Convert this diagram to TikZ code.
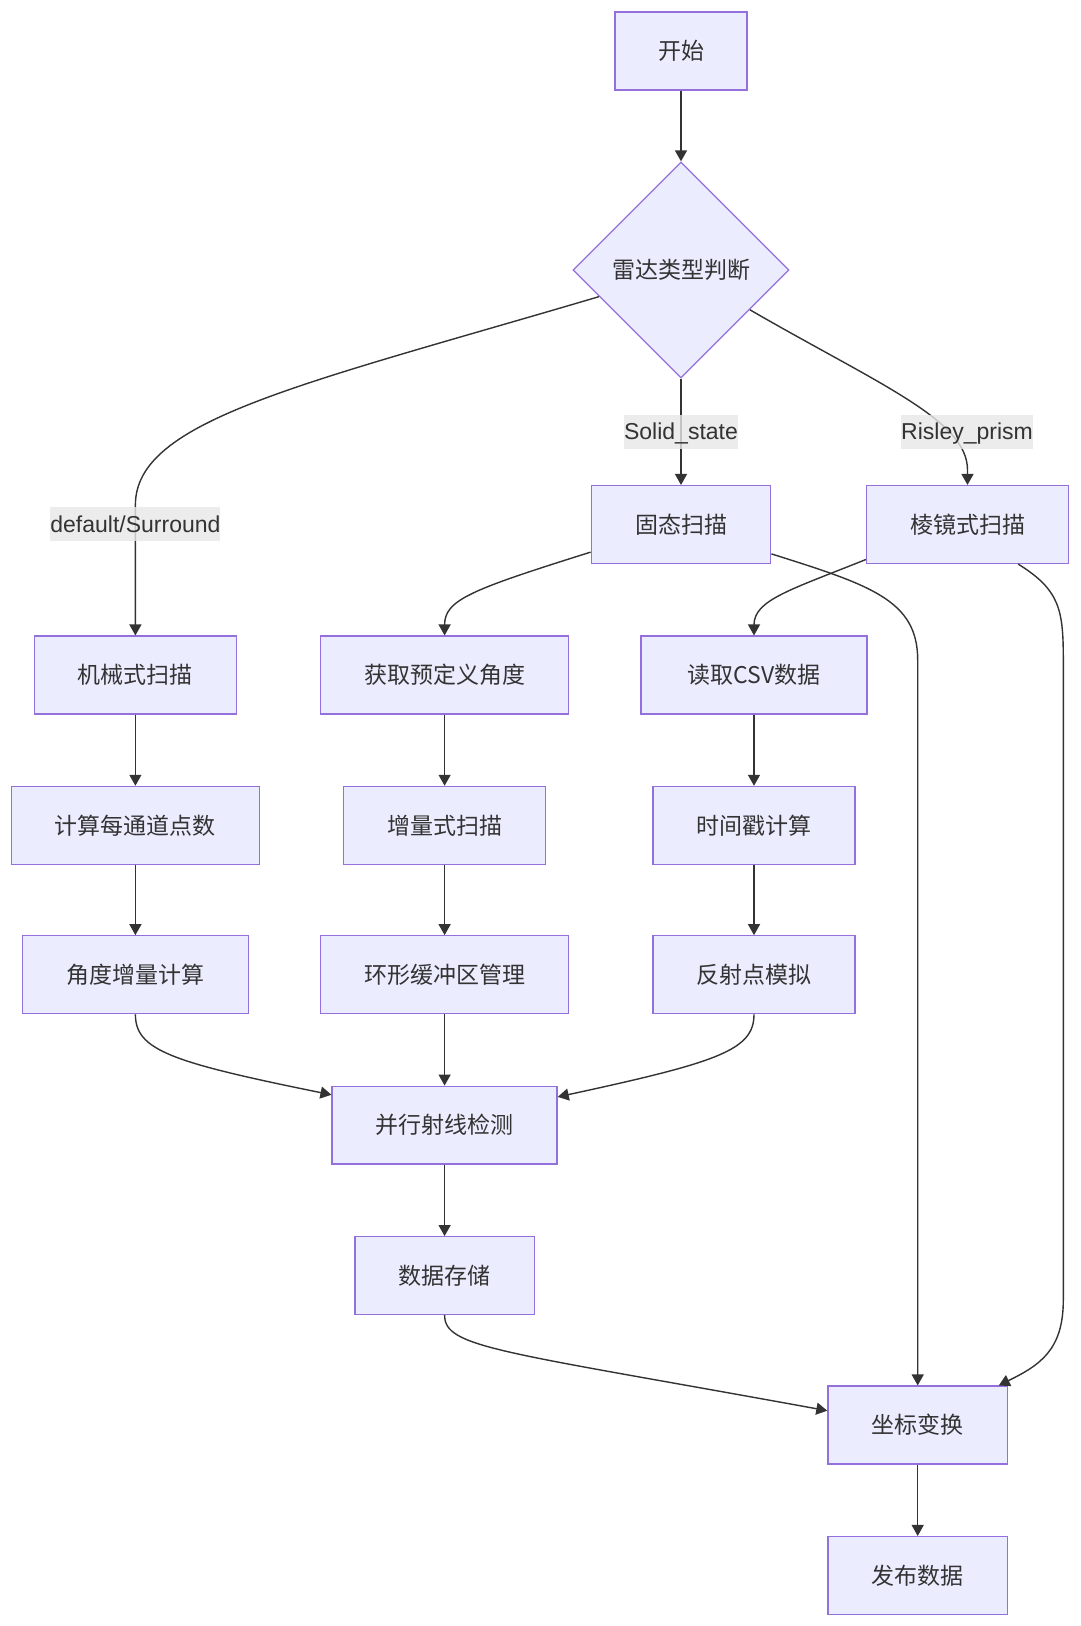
\documentclass[tikz,border=0pt]{standalone}
\usepackage{fontspec}
\setmainfont{Liberation Sans}
\newfontfamily\cjk{Noto Sans CJK SC}
\usetikzlibrary{positioning,shapes.geometric,arrows.meta}
\definecolor{boxfill}{HTML}{ECECFF}
\definecolor{boxline}{HTML}{9370DB}
\definecolor{ink}{HTML}{333333}
\definecolor{lblfill}{HTML}{E8E8E8}
\tikzset{
  box/.style={draw=boxline, fill=boxfill, line width=1.3pt, minimum height=77.8pt,
    inner sep=0pt, text=ink, font=\cjk\fontsize{23}{28}\selectfont},
  decide/.style={box, diamond, aspect=1, minimum width=216pt, minimum height=216pt},
  lbl/.style={fill=lblfill, fill opacity=0.8, text opacity=1, text=ink, inner xsep=0pt,
    inner ysep=5pt, text height=20pt, text depth=4pt, font=\fontsize{23}{28}\selectfont},
  flow/.style={draw=ink, line width=1.4pt, -{Triangle[length=11pt,width=12pt]}}
}
\begin{document}
\begin{tikzpicture}[x=1pt,y=-1pt]
  %% page frame (px of the original)
  \fill[white] (0,0) rectangle (1080,1626);
  \useasboundingbox (0,0) rectangle (1080,1626);

  \def\colA{135.4} % mechanical column
  \def\colB{444.6} % solid state column
  \def\colC{754} % prism column

  % top
  \node[box, minimum width=132pt] (start) at (681,51) {开始};
  \node[decide] (dia) at (681,270) {雷达类型判断};
  \node[box, minimum width=179.5pt] (gt) at (681,524.5) {固态扫描};
  \node[box, minimum width=202pt] (lj) at (967.5,524.5) {棱镜式扫描};

  % three branches
  \node[box, minimum width=202pt] (jx) at (\colA,675) {机械式扫描};
  \node[box, minimum width=248pt] (jm) at (\colA,825.3) {计算每通道点数};
  \node[box, minimum width=226pt] (jd) at (\colA,974.7) {角度增量计算};

  \node[box, minimum width=248pt] (hq) at (\colB,675) {获取预定义角度};
  \node[box, minimum width=202pt] (zl) at (\colB,825.3) {增量式扫描};
  \node[box, minimum width=248pt] (hx) at (\colB,974.7) {环形缓冲区管理};

  \node[box, minimum width=226pt] (dq) at (\colC,675) {读取CSV数据};
  \node[box, minimum width=202pt] (sj) at (\colC,825.3) {时间戳计算};
  \node[box, minimum width=202pt] (fs) at (\colC,974.7) {反射点模拟};

  % bottom
  \node[box, minimum width=225pt] (bx) at (\colB,1125.1) {并行射线检测};
  \node[box, minimum width=179.5pt] (sc) at (\colB,1275.6) {数据存储};
  \node[box, minimum width=179.5pt] (zb) at (917.7,1425) {坐标变换};
  \node[box, minimum width=179.5pt] (fb) at (917.7,1575.5) {发布数据};

  % edges
  \draw[flow] (start.south) -- (dia.north);
  \draw[flow] (dia.198) .. controls (300,385) and (\colA,420) .. (\colA,505) -- (jx.north);
  \draw[flow] (dia.south) -- (gt.north);
  \draw[flow] (dia.330.5) .. controls (880,385) and (967.5,420) .. (967.5,470) -- (lj.north);

  \draw[flow] (gt.197.6) .. controls (470,590) and (\colB,600) .. (\colB,625) -- (hq.north);
  \draw[flow] (gt.342.4) .. controls (870,585) and (917.7,600) .. (917.7,660) -- (zb.north);
  \draw[flow] (lj.199.4) .. controls (790,590) and (\colC,600) .. (\colC,625) -- (dq.north);
  \draw[flow] (lj.322.3) .. controls (1060,590) and (1063.3,610) .. (1063.3,660)
    -- (1063.3,1300) .. controls (1063.3,1350) and (1040,1365) .. (zb.26.3);

  \draw[flow] (jx) -- (jm);
  \draw[flow] (jm) -- (jd);
  \draw[flow] (hq) -- (zl);
  \draw[flow] (zl) -- (hx);
  \draw[flow] (dq) -- (sj);
  \draw[flow] (sj) -- (fs);

  \draw[flow] (jd.south) .. controls (\colA,1050) and (170,1062) .. (bx.165.8);
  \draw[flow] (hx) -- (bx);
  \draw[flow] (fs.south) .. controls (\colC,1050) and (719,1062) .. (bx.14.2);
  \draw[flow] (bx) -- (sc);
  \draw[flow] (sc.south) .. controls (\colB,1348) and (500,1351) .. (zb.171.8);
  \draw[flow] (zb) -- (fb);

  % edge labels
  \node[lbl] (lblD) at (\colA,524) {default/Surround};
  \node[lbl] (lblS) at (681,431.6) {Solid\_state};
  \node[lbl] (lblR) at (967,431.6) {Risley\_prism};
\end{tikzpicture}
\end{document}
